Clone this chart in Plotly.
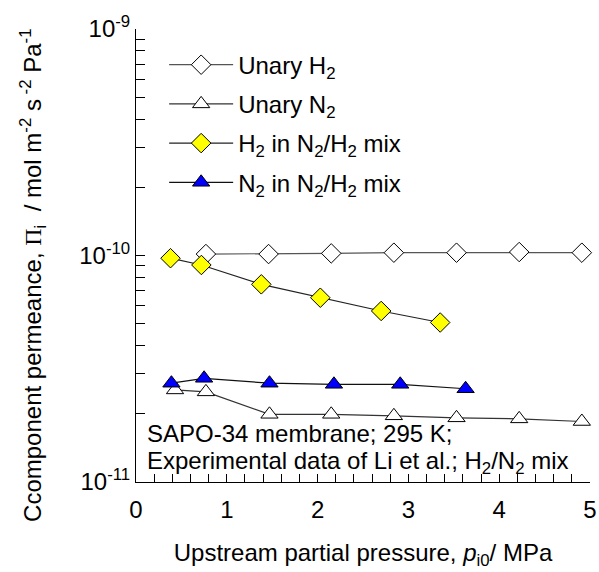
import plotly.graph_objects as go

# Upstream partial pressure (MPa) and component permeance (mol m-2 s-1 Pa-1)
p_unary_h2 = [0.77, 1.46, 2.15, 2.84, 3.53, 4.22, 4.91]
perm_unary_h2 = [1.015e-10, 1.015e-10, 1.022e-10, 1.029e-10, 1.029e-10, 1.036e-10, 1.029e-10]

p_unary_n2 = [0.43, 0.77, 1.47, 2.15, 2.84, 3.53, 4.22, 4.91]
perm_unary_n2 = [2.55e-11, 2.50e-11, 1.99e-11, 1.99e-11, 1.96e-11, 1.92e-11, 1.90e-11, 1.85e-11]

p_mix_h2 = [0.38, 0.72, 1.38, 2.03, 2.70, 3.35]
perm_mix_h2 = [0.973e-10, 0.908e-10, 0.746e-10, 0.651e-10, 0.569e-10, 0.506e-10]

p_mix_n2 = [0.39, 0.75, 1.47, 2.18, 2.91, 3.63]
perm_mix_n2 = [2.73e-11, 2.87e-11, 2.73e-11, 2.70e-11, 2.70e-11, 2.58e-11]

x_ticks = [0, 1, 2, 3, 4, 5]
y_decades = [-11, -10, -9]

FONT = "Liberation Sans, Arial, sans-serif"
FS = 24

fig = go.Figure()

def add_series(x, y, name, symbol, fill, line_color, size):
    fig.add_trace(go.Scatter(
        x=x, y=y, name=name, mode="lines+markers", legendgroup=name,
        line=dict(color=line_color, width=1.2),
        marker=dict(symbol=symbol, size=size, color=fill,
                    line=dict(color="black", width=1)),
        cliponaxis=False,
    ))

add_series(p_unary_h2, perm_unary_h2, "Unary H<sub>2</sub>", "diamond", "white", "#555555", 15)
add_series(p_unary_n2, perm_unary_n2, "Unary N<sub>2</sub>", "triangle-up", "white", "#333333", 15)
add_series(p_mix_h2, perm_mix_h2, "H<sub>2</sub> in N<sub>2</sub>/H<sub>2</sub> mix", "diamond", "#FFFF00", "#222222", 15)
add_series(p_mix_n2, perm_mix_n2, "N<sub>2</sub> in N<sub>2</sub>/H<sub>2</sub> mix", "triangle-up", "#0000FF", "#111111", 15)

# log-axis ticks: every integer multiple in each decade, labels only on decades
y_tickvals, y_ticktext = [], []
for d in y_decades[:-1]:
    for m in range(1, 10):
        y_tickvals.append(m * 10.0 ** d)
        y_ticktext.append(f"10<sup>{d}</sup>" if m == 1 else "")
y_tickvals.append(10.0 ** y_decades[-1])
y_ticktext.append(f"10<sup>{y_decades[-1]}</sup>")

y_title = ("Ccomponent permeance, <span style=\"font-family:'Liberation Serif', serif\">Π</span>"
           "<sub>i</sub>  / mol m<sup>-2</sup> s<sup> -2</sup> Pa<sup>-1</sup>")

fig.update_layout(
    width=599, height=572,
    margin=dict(l=136, r=9, t=29, b=90, autoexpand=False),
    paper_bgcolor="white", plot_bgcolor="white",
    font=dict(family=FONT, color="black", size=FS),
    showlegend=True,
    legend=dict(
        x=0.062, y=0.97, xanchor="left", yanchor="top",
        bgcolor="rgba(0,0,0,0)", font=dict(size=FS),
        itemwidth=64, tracegroupgap=5,
    ),
    xaxis=dict(
        range=[0, 5], tickvals=x_ticks, ticktext=[str(v) for v in x_ticks],
        ticks="inside", ticklen=8, tickcolor="black", showline=True,
        linecolor="black", linewidth=1, showgrid=False, zeroline=False,
        minor=dict(ticks="inside", dtick=0.2, ticklen=8, tickcolor="black", showgrid=False),
        tickfont=dict(size=FS), ticklabelstandoff=6,
        title=dict(text="Upstream partial pressure, <i>p</i><sub>i0</sub>/ MPa",
                   font=dict(size=FS), standoff=22),
    ),
    yaxis=dict(
        type="log", range=[-11, -9], tickvals=y_tickvals, ticktext=y_ticktext,
        ticks="inside", ticklen=9, tickcolor="black", showline=True,
        linecolor="black", linewidth=1, showgrid=False, zeroline=False,
        tickfont=dict(size=FS),
    ),
    annotations=[
        dict(xref="paper", yref="paper", x=-0.227, y=0.457, xanchor="center", yanchor="middle",
             textangle=-90, showarrow=False, font=dict(size=FS), text=y_title),
        dict(xref="paper", yref="paper", x=0.02, y=0.106, xanchor="left", yanchor="middle",
             showarrow=False, font=dict(size=FS), text="SAPO-34 membrane; 295 K;"),
        dict(xref="paper", yref="paper", x=0.02, y=0.044, xanchor="left", yanchor="middle",
             showarrow=False, font=dict(size=FS),
             text="Experimental data of Li et al.; H<sub>2</sub>/N<sub>2</sub> mix"),
    ],
)

fig.write_html("out.html")
